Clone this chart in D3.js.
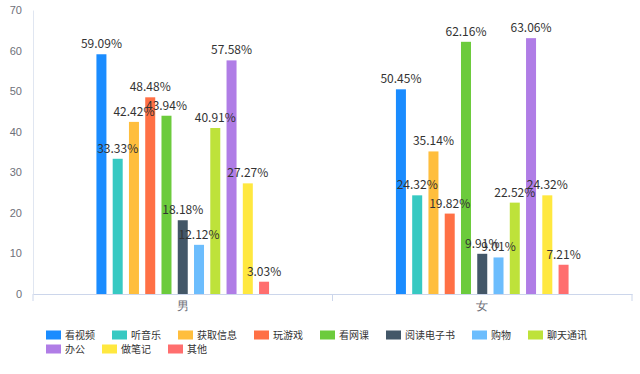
<!DOCTYPE html>
<html>
<head>
<meta charset="utf-8">
<script src="https://cdn.jsdelivr.net/npm/d3@7"></script>
<style>
  body { margin: 0; background: #fff; }
  svg { display: block; font-family: "Microsoft YaHei", "Noto Sans CJK SC", "Open Sans", sans-serif; }
  .axis text { fill: #6e7079; font-size: 11px; }
</style>
</head>
<body>
<div id="body"></div>
<script>
var genders = ["男", "女"];
var activities = ["看视频","听音乐","获取信息","玩游戏","看网课","阅读电子书","购物","聊天通讯","办公","做笔记","其他"];
var maleValues   = [59.09, 33.33, 42.42, 48.48, 43.94, 18.18, 12.12, 40.91, 57.58, 27.27, 3.03];
var femaleValues = [50.45, 24.32, 35.14, 19.82, 62.16, 9.91, 9.01, 22.52, 63.06, 24.32, 7.21];
var yTicks = [0, 10, 20, 30, 40, 50, 60, 70];
var colors = ["#1a8cff","#37c9c2","#ffbe3d","#ff7045","#6ccb3c","#435768","#6cbdfd","#bee23a","#b07de6","#ffe83f","#ff6e6e"];

var width = 640, height = 374;
var margin = {top: 10, left: 33, right: 8, bottom: 80};

var svg = d3.select("#body").append("svg")
     .attr("width", width)
     .attr("height", height);

var x0 = d3.scaleBand()
     .domain(genders)
     .range([33, 632]);

var x1 = d3.scaleBand()
     .domain(activities)
     .range([0, x0.bandwidth()])
     .paddingInner(0.385)
     .paddingOuter(3.9);

var y = d3.scaleLinear()
     .domain([0, 70])
     .range([294, 10]);

var color = d3.scaleOrdinal().domain(activities).range(colors);

var data = [];
genders.forEach(function(g, gi) {
     var vals = gi == 0 ? maleValues : femaleValues;
     activities.forEach(function(a, i) {
          data.push({gender: g, act: a, value: vals[i]});
     });
});

// y axis
var yAxis = svg.append("g")
     .attr("class", "axis")
     .attr("transform", "translate(33,0)")
     .call(d3.axisLeft(y).tickValues(yTicks).tickSize(0).tickPadding(11));
yAxis.select(".domain").attr("stroke", "#e0e6f1");

// x axis
var xAxis = svg.append("g")
     .attr("class", "axis")
     .attr("transform", "translate(0,294)")
     .call(d3.axisBottom(x0).tickSize(0).tickPadding(7));
xAxis.select(".domain").attr("stroke", "#ccd6eb");
xAxis.selectAll("text").attr("fill", "#555").style("font-size", "12px");

var bounds = [x0.range()[0]].concat(genders.map(function(g) { return x0(g) + x0.bandwidth(); }));
svg.append("g").selectAll("line")
     .data(bounds)
   .enter().append("line")
     .attr("x1", function(d) { return d; })
     .attr("x2", function(d) { return d; })
     .attr("y1", 294)
     .attr("y2", 301)
     .attr("stroke", "#ccd6eb");

// bars
var bars = svg.append("g").selectAll("rect")
     .data(data)
   .enter().append("rect")
     .attr("x", function(d) { return x0(d.gender) + x1(d.act); })
     .attr("y", function(d) { return y(d.value); })
     .attr("width", x1.bandwidth())
     .attr("height", function(d) { return y(0) - y(d.value); })
     .attr("fill", function(d) { return color(d.act); });

svg.append("g").selectAll("text")
     .data(data)
   .enter().append("text")
     .attr("x", function(d) { return x0(d.gender) + x1(d.act) + x1.bandwidth() / 2; })
     .attr("y", function(d) { return y(d.value) - 6; })
     .attr("text-anchor", "middle")
     .attr("fill", "#333")
     .style("font-size", "12px")
     .text(function(d) { return d.value.toFixed(2) + "%"; });

// legend, flowing left to right and wrapping
var legend = svg.append("g");
var lx = 46, ly = 335, maxX = 600;
activities.forEach(function(a) {
     var item = legend.append("g");
     var t = item.append("text")
          .attr("x", 19)
          .attr("y", 0)
          .attr("dy", "0.35em")
          .attr("fill", "#333")
          .style("font-size", "10px")
          .text(a);
     var w = 19 + t.node().getComputedTextLength();
     if (lx + w > maxX) { lx = 46; ly += 14; }
     item.attr("transform", "translate(" + lx + "," + ly + ")");
     item.append("rect")
          .attr("x", 0)
          .attr("y", -4.5)
          .attr("width", 15)
          .attr("height", 9)
          .attr("fill", color(a));
     lx += w + 17;
});
</script>
</body>
</html>
